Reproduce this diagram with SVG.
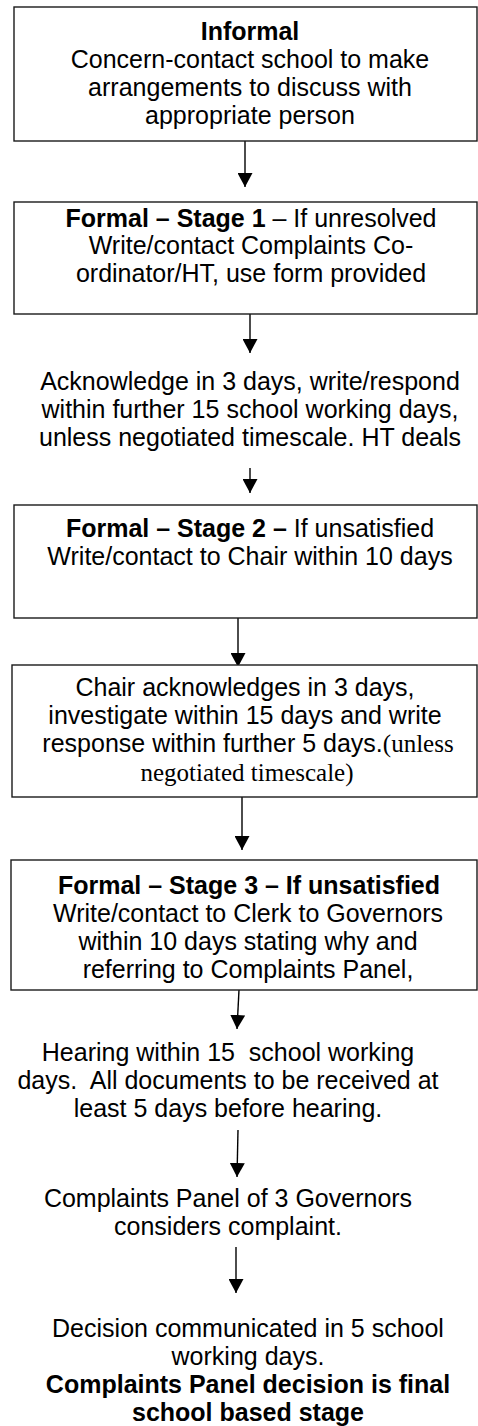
<svg xmlns="http://www.w3.org/2000/svg" width="478" height="1426" viewBox="0 0 478 1426">
<style>
.box{fill:#fff;stroke:#1a1a1a;stroke-width:1.4}
.t{font-family:"Liberation Sans",Arial,sans-serif;font-size:25px;fill:#000;text-anchor:middle}
.b{font-weight:bold}
.tr{font-family:"Liberation Serif","Times New Roman",serif}
.pre{white-space:pre}
.conn{stroke:#000;stroke-width:1.4;fill:none;marker-end:url(#ah)}
</style>
<defs>
<marker id="ah" markerUnits="userSpaceOnUse" markerWidth="15" markerHeight="15" refX="14" refY="7.5" orient="auto">
<path d="M0,0 L14,7.5 L0,15 z" fill="#000"/>
</marker>
<clipPath id="c5"><rect x="0" y="860" width="478" height="128"/></clipPath>
</defs>
<rect width="478" height="1426" fill="#fff"/>
<g id="connectors">
<line class="conn" x1="245" y1="141" x2="245" y2="187"/>
<line class="conn" x1="250" y1="314" x2="250" y2="353"/>
<line class="conn" x1="250" y1="468" x2="250" y2="493"/>
<line class="conn" x1="238" y1="618" x2="238" y2="667"/>
<line class="conn" x1="242" y1="797" x2="242" y2="850"/>
<line class="conn" x1="239" y1="990" x2="237" y2="1029"/>
<line class="conn" x1="238" y1="1130" x2="237" y2="1177"/>
<line class="conn" x1="236" y1="1247" x2="236" y2="1293"/>
</g>
<g id="informal">
<rect class="box" x="14" y="7" width="463" height="134"/>
<text class="t" x="250"><tspan class="b" x="250" y="40">Informal</tspan><tspan x="250" y="68">Concern-contact school to make</tspan><tspan x="250" y="96">arrangements to discuss with</tspan><tspan x="250" y="124">appropriate person</tspan></text>
</g>
<g id="stage1">
<rect class="box" x="14" y="202" width="463" height="112"/>
<text class="t" x="251" y="227"><tspan class="b">Formal – Stage 1</tspan> – If unresolved</text>
<text class="t"><tspan x="251" y="254">Write/contact Complaints Co-</tspan><tspan x="251" y="282">ordinator/HT, use form provided</tspan></text>
</g>
<g id="acknowledge">
<text class="t"><tspan x="250" y="390">Acknowledge in 3 days, write/respond</tspan><tspan x="250" y="418">within further 15 school working days,</tspan><tspan x="250" y="446">unless negotiated timescale. HT deals</tspan></text>
</g>
<g id="stage2">
<rect class="box" x="14" y="505" width="463" height="113"/>
<text class="t" x="250" y="537"><tspan class="b">Formal – Stage 2 –</tspan> If unsatisfied</text>
<text class="t" x="250" y="565">Write/contact to Chair within 10 days</text>
</g>
<g id="chair">
<rect class="box" x="12" y="665" width="465" height="132"/>
<text class="t"><tspan x="245" y="696">Chair acknowledges in 3 days,</tspan><tspan x="245" y="724">investigate within 15 days and write</tspan></text>
<text class="t" x="248" y="752">response within further 5 days.<tspan class="tr">(unless</tspan></text>
<text class="t tr" x="247" y="781">negotiated timescale)</text>
</g>
<g id="stage3">
<rect class="box" x="11" y="860" width="466" height="130"/>
<text class="t b" x="249" y="894">Formal – Stage 3 – If unsatisfied</text>
<text class="t" clip-path="url(#c5)"><tspan x="248" y="922">Write/contact to Clerk to Governors</tspan><tspan x="248" y="950">within 10 days stating why and</tspan><tspan x="248" y="978">referring to Complaints Panel,</tspan></text>
</g>
<g id="hearing">
<text class="t pre" xml:space="preserve"><tspan x="228" y="1061">Hearing within 15  school working</tspan><tspan x="228" y="1089">days.  All documents to be received at</tspan><tspan x="228" y="1117">least 5 days before hearing.</tspan></text>
</g>
<g id="panel">
<text class="t"><tspan x="228" y="1207">Complaints Panel of 3 Governors</tspan><tspan x="228" y="1235">considers complaint.</tspan></text>
</g>
<g id="decision">
<text class="t"><tspan x="248" y="1337">Decision communicated in 5 school</tspan><tspan x="248" y="1365">working days.</tspan><tspan class="b" x="248" y="1393">Complaints Panel decision is final</tspan><tspan class="b" x="248" y="1421">school based stage</tspan></text>
</g>
</svg>
